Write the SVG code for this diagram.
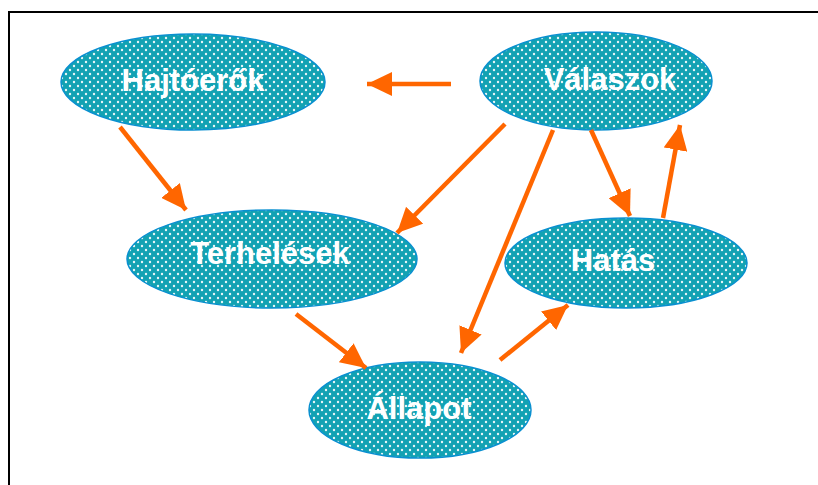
<svg xmlns="http://www.w3.org/2000/svg" width="818" height="485" viewBox="0 0 818 485">
<defs>
<pattern id="dots" width="8" height="8" patternUnits="userSpaceOnUse">
<rect width="8" height="8" fill="#12a2b3"/>
<circle cx="2" cy="2" r="1.2" fill="#e8f6f8"/>
<circle cx="6" cy="6" r="1.2" fill="#e8f6f8"/>
</pattern>
<marker id="ah" markerUnits="userSpaceOnUse" markerWidth="26" markerHeight="24" refX="25" refY="12" orient="auto">
<path d="M0,0 L25,12 L0,24 Z" fill="#ff6600"/>
</marker>
<style>
.node ellipse{fill:url(#dots);stroke:#0a90d0;stroke-width:1.5}
.node text{font-family:"Liberation Sans",Arial,sans-serif;font-weight:bold;font-size:31px;fill:#ffffff;text-anchor:middle}
.edges line{stroke:#ff6600;stroke-width:4.5;marker-end:url(#ah)}
</style>
</defs>
<rect width="818" height="485" fill="#ffffff"/>
<path d="M9,485 L9,12 L818,12" fill="none" stroke="#000000" stroke-width="2"/>
<g id="hajtoerok" class="node"><ellipse cx="193" cy="82" rx="132" ry="48"/><text x="193" y="91">Hajtóerők</text></g>
<g id="valaszok" class="node"><ellipse cx="596" cy="81" rx="116" ry="49"/><text x="610" y="90">Válaszok</text></g>
<g id="terhelesek" class="node"><ellipse cx="272" cy="259" rx="145" ry="49"/><text x="270" y="264">Terhelések</text></g>
<g id="hatas" class="node"><ellipse cx="626" cy="263" rx="121" ry="45"/><text x="613" y="271">Hatás</text></g>
<g id="allapot" class="node"><ellipse cx="420" cy="410" rx="111" ry="48"/><text x="419" y="419">Állapot</text></g>
<g id="connectors" class="edges">
<line x1="451" y1="84" x2="367" y2="84"/>
<line x1="120" y1="127" x2="186" y2="210"/>
<line x1="505" y1="124" x2="397" y2="233"/>
<line x1="553" y1="130" x2="461" y2="353"/>
<line x1="591" y1="130" x2="630" y2="216"/>
<line x1="663" y1="218" x2="680" y2="125"/>
<line x1="296" y1="314" x2="366" y2="368"/>
<line x1="500" y1="360" x2="568" y2="305"/>
</g>
</svg>
